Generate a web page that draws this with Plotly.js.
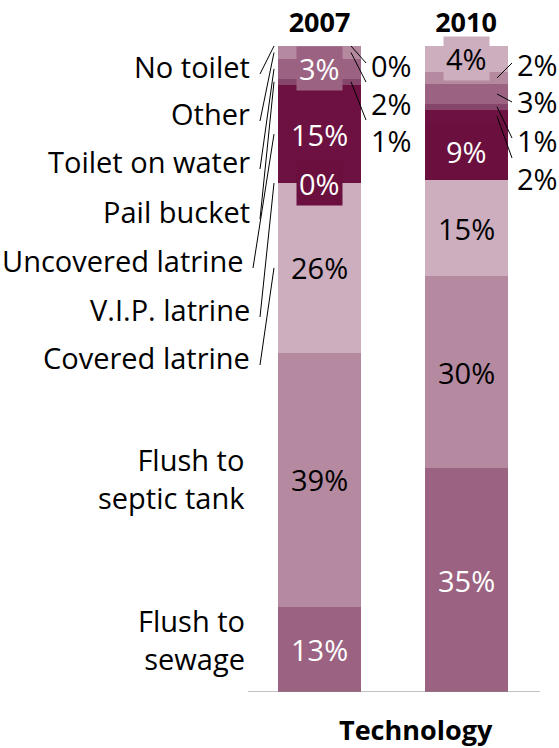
<!DOCTYPE html>
<html><head><meta charset="utf-8">
<script src="https://cdn.plot.ly/plotly-3.0.1.min.js"></script>
<style>html,body{margin:0;padding:0;background:#fff}</style>
</head><body>
<div id="chart" style="width:559px;height:748px"></div>
<script>
// ---------- data ----------
const years = ['2007', '2010'];
const categories = ['Flush to sewage', 'Flush to septic tank', 'Covered latrine', 'V.I.P. latrine',
  'Uncovered latrine', 'Pail bucket', 'Toilet on water', 'Other', 'No toilet'];
const values2007 = [13, 39, 26, 0, 15, 1, 3, 2, 0];
const values2010 = [35, 30, 15, 9, 2, 1, 3, 2, 4];
const axisTitle = 'Technology';

// ---------- styles ----------
const colors = ['#9b6381', '#b5899f', '#cdaebf', '#6a0f3e', '#6c1141', '#86456a', '#9b6381', '#b5899f', '#cdaebf'];
const textColors = ['#ffffff', '#000000', '#000000', '#ffffff', '#ffffff', '#ffffff', '#ffffff', '#000000', '#000000'];
const FONT = 'Open Sans, Noto Sans, sans-serif';
const FS = 29;

// labels pulled out of the bar with leader lines (category indices, top to bottom)
const outside = [[8, 7, 5], [7, 6, 5, 4]];
// layout (pixels) of those pulled-out labels
const outLabelY = [[65, 103, 140], [64, 101, 140, 178]];
const outLineEndY = [[63, 82, 120], [63, 102, 138, 158]];

// left category labels (pixel centers) for categories 2..8
const leftLabelY = {2: 357, 3: 309, 4: 260, 5: 211, 6: 161, 7: 113, 8: 66};

// ---------- geometry helpers (layout) ----------
const W = 559, H = 748, ML = 248, MR = 19, MT = 46, MB = 56;
const plotW = W - ML - MR, plotH = H - MT - MB;
const xRange = [-0.488, 1.505];
const px2x = px => xRange[0] + (px - ML) / plotW * (xRange[1] - xRange[0]);
const px2paper = px => (px - ML) / plotW;
const py2y = py => (H - MB - py) / plotH * 100;
const BARW = 0.5666;

function stackInfo(vals) {
  const total = vals.reduce((a, b) => a + b, 0);
  let c = 0;
  return vals.map(v => {
    const lo = c / total * 100; c += v; const hi = c / total * 100;
    return {lo, hi, mid: (lo + hi) / 2};
  });
}
const allValues = [values2007, values2010];
const stacks = allValues.map(stackInfo);

// ---------- traces ----------
const traces = categories.map((cat, i) => ({
  type: 'bar',
  name: cat,
  x: years,
  y: allValues.map(v => v[i]),
  width: BARW,
  marker: {color: colors[i], line: {width: 0}},
  textposition: 'none',
  hoverinfo: 'name+y'
}));

// ---------- annotations & shapes ----------
const annotations = [];
const shapes = [];

// value labels
allValues.forEach((vals, yi) => {
  vals.forEach((v, i) => {
    const oIdx = outside[yi].indexOf(i);
    if (oIdx === -1) {
      annotations.push({
        xref: 'x', yref: 'y', x: yi, y: stacks[yi][i].mid,
        text: v + '%', showarrow: false,
        font: {family: FONT, size: FS, color: textColors[i]},
        bgcolor: colors[i], borderpad: 2
      });
    } else {
      const barRightPx = yi === 0 ? 361 : 507;
      annotations.push({
        xref: 'paper', yref: 'y', x: px2paper(barRightPx + 8), y: py2y(outLabelY[yi][oIdx]),
        xanchor: 'left', yanchor: 'middle',
        text: v + '%', showarrow: false,
        font: {family: FONT, size: FS, color: '#000'}
      });
      shapes.push({
        type: 'line', xref: 'x', yref: 'y',
        x0: px2x(barRightPx - 10), y0: stacks[yi][i].mid,
        x1: px2x(barRightPx + 5), y1: py2y(outLineEndY[yi][oIdx]),
        line: {color: '#000', width: 1}
      });
    }
  });
});

// category labels on the left
Object.keys(leftLabelY).forEach(k => {
  const i = +k;
  const ly = leftLabelY[i];
  const rightPx = i === 4 ? 245 : 252;
  annotations.push({
    xref: 'paper', yref: 'y', x: px2paper(rightPx), y: py2y(ly),
    xanchor: 'right', yanchor: 'middle', showarrow: false,
    text: categories[i],
    font: {family: FONT, size: FS, color: '#000'}
  });
  shapes.push({
    type: 'line', xref: 'x', yref: 'y',
    x0: px2x(rightPx + 8), y0: py2y(ly + 8),
    x1: px2x(274), y1: stacks[0][i].mid,
    line: {color: '#000', width: 1}
  });
});
// flush labels (no leader lines), two lines each
[[0, 'Flush to<br>sewage', 10], [1, 'Flush to<br>septic tank', 1]].forEach(([i, t, shift]) => {
  annotations.push({
    xref: 'paper', yref: 'y', x: px2paper(247), y: stacks[0][i].mid,
    xanchor: 'right', yanchor: 'middle', align: 'right', showarrow: false,
    yshift: shift,
    text: t,
    font: {family: FONT, size: FS, color: '#000'}
  });
});

// axis title
annotations.push({
  xref: 'paper', yref: 'paper', x: px2paper(416), y: -(729 - (H - MB)) / plotH,
  xanchor: 'center', yanchor: 'middle', showarrow: false,
  text: axisTitle,
  font: {family: FONT, size: 27, color: '#000', weight: 'bold'}
});

// baseline
shapes.push({
  type: 'line', xref: 'paper', yref: 'y', x0: 0, x1: 1, y0: 0, y1: 0,
  line: {color: '#868686', width: 1.2}, layer: 'above'
});

const layout = {
  width: W, height: H,
  margin: {l: ML, r: MR, t: MT, b: MB, pad: 0},
  paper_bgcolor: '#ffffff', plot_bgcolor: '#ffffff',
  barmode: 'stack', barnorm: 'percent',
  showlegend: false,
  font: {family: FONT, size: FS, color: '#000'},
  xaxis: {
    type: 'category', side: 'top', range: xRange,
    showline: false, showgrid: false, zeroline: false, ticks: '',
    tickfont: {family: FONT, size: 27, color: '#000', weight: 'bold'},
    ticklabelstandoff: 8
  },
  yaxis: {
    range: [0, 100], showticklabels: false, showgrid: false, zeroline: false,
    showline: false, ticks: ''
  },
  annotations, shapes
};

Plotly.newPlot('chart', traces, layout, {displayModeBar: false, staticPlot: true});
</script>
</body></html>
